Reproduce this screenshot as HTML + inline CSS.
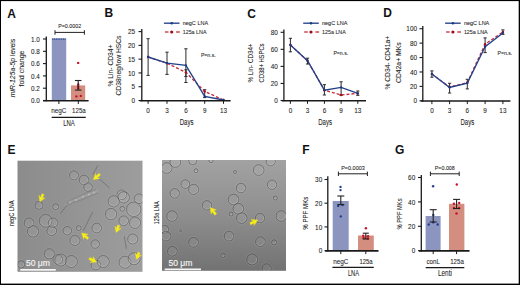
<!DOCTYPE html><html><head><meta charset="utf-8"><style>html,body{margin:0;padding:0;background:#fff;}svg{display:block;}text{stroke:#1e1e1e;stroke-width:0.08px;}text.w{stroke:#f4f4f4;stroke-width:0.15px;}text.b{stroke:none;}</style></head><body>
<svg width="520" height="285" viewBox="0 0 520 285" font-family='"Liberation Sans", sans-serif'>
<defs><linearGradient id="g1" x1="0" y1="0" x2="1" y2="0"><stop offset="0" stop-color="#8c8c8c"/><stop offset="1" stop-color="#9d9d9d"/></linearGradient><linearGradient id="g2" x1="0" y1="0" x2="0" y2="1"><stop offset="0" stop-color="#a2a2a2"/><stop offset="0.5" stop-color="#8e8e8e"/><stop offset="1" stop-color="#727272"/></linearGradient><clipPath id="c1"><rect x="17.5" y="160.7" width="125" height="111.1"/></clipPath><clipPath id="c2"><rect x="162" y="160" width="124" height="110.8"/></clipPath><filter id="soft" x="-5%" y="-5%" width="110%" height="110%"><feGaussianBlur stdDeviation="0.35"/></filter></defs>
<rect x="0" y="0" width="520" height="285" fill="#fff" />
<text class="b" x="7.3" y="17.5" font-size="12" text-anchor="start" fill="#111" font-weight="bold">A</text>
<text class="b" x="104.6" y="17.4" font-size="12" text-anchor="start" fill="#111" font-weight="bold">B</text>
<text class="b" x="247.2" y="17.5" font-size="12" text-anchor="start" fill="#111" font-weight="bold">C</text>
<text class="b" x="383.2" y="17.4" font-size="12" text-anchor="start" fill="#111" font-weight="bold">D</text>
<text class="b" x="7.6" y="153.6" font-size="12" text-anchor="start" fill="#111" font-weight="bold">E</text>
<text class="b" x="302.2" y="153.5" font-size="12" text-anchor="start" fill="#111" font-weight="bold">F</text>
<text class="b" x="395.0" y="153.6" font-size="12" text-anchor="start" fill="#111" font-weight="bold">G</text>
<rect x="51.8" y="38.6" width="14.4" height="62.0" fill="#8c95bf" />
<rect x="71.0" y="85.4" width="14.2" height="15.2" fill="#d48e7f" />
<circle cx="52.8" cy="39.0" r="0.75" fill="#22408e"/>
<circle cx="54.55" cy="39.0" r="0.75" fill="#22408e"/>
<circle cx="56.3" cy="39.0" r="0.75" fill="#22408e"/>
<circle cx="58.05" cy="39.0" r="0.75" fill="#22408e"/>
<circle cx="59.8" cy="39.0" r="0.75" fill="#22408e"/>
<circle cx="61.55" cy="39.0" r="0.75" fill="#22408e"/>
<circle cx="63.3" cy="39.0" r="0.75" fill="#22408e"/>
<circle cx="65.05" cy="39.0" r="0.75" fill="#22408e"/>
<circle cx="78.2" cy="62.9" r="1.2" fill="#c4122e"/>
<circle cx="76.4" cy="96.4" r="1.2" fill="#c4122e"/>
<circle cx="80.8" cy="95.9" r="1.2" fill="#c4122e"/>
<circle cx="78.2" cy="84.5" r="1.2" fill="#c4122e"/>
<circle cx="78.2" cy="86.5" r="1.2" fill="#c4122e"/>
<circle cx="78.2" cy="88.2" r="1.2" fill="#c4122e"/>
<line x1="78.2" y1="80.5" x2="78.2" y2="90.1" stroke="#222" stroke-width="1.1" />
<line x1="74.9" y1="80.5" x2="81.5" y2="80.5" stroke="#222" stroke-width="1.1" />
<line x1="74.9" y1="90.1" x2="81.5" y2="90.1" stroke="#222" stroke-width="1.1" />
<line x1="46.3" y1="36.5" x2="46.3" y2="101.25" stroke="#1a1a1a" stroke-width="1.3" />
<line x1="43.0" y1="39.0" x2="46.3" y2="39.0" stroke="#1a1a1a" stroke-width="1.1" />
<text x="39.9" y="41.6" font-size="7.4" text-anchor="end" fill="#1e1e1e" font-weight="normal" textLength="8.8" lengthAdjust="spacingAndGlyphs">1.0</text>
<line x1="43.0" y1="51.3" x2="46.3" y2="51.3" stroke="#1a1a1a" stroke-width="1.1" />
<text x="39.9" y="53.9" font-size="7.4" text-anchor="end" fill="#1e1e1e" font-weight="normal" textLength="8.8" lengthAdjust="spacingAndGlyphs">0.8</text>
<line x1="43.0" y1="63.6" x2="46.3" y2="63.6" stroke="#1a1a1a" stroke-width="1.1" />
<text x="39.9" y="66.2" font-size="7.4" text-anchor="end" fill="#1e1e1e" font-weight="normal" textLength="8.8" lengthAdjust="spacingAndGlyphs">0.6</text>
<line x1="43.0" y1="75.9" x2="46.3" y2="75.9" stroke="#1a1a1a" stroke-width="1.1" />
<text x="39.9" y="78.5" font-size="7.4" text-anchor="end" fill="#1e1e1e" font-weight="normal" textLength="8.8" lengthAdjust="spacingAndGlyphs">0.4</text>
<line x1="43.0" y1="88.2" x2="46.3" y2="88.2" stroke="#1a1a1a" stroke-width="1.1" />
<text x="39.9" y="90.8" font-size="7.4" text-anchor="end" fill="#1e1e1e" font-weight="normal" textLength="8.8" lengthAdjust="spacingAndGlyphs">0.2</text>
<line x1="43.0" y1="100.5" x2="46.3" y2="100.5" stroke="#1a1a1a" stroke-width="1.1" />
<text x="39.9" y="103.1" font-size="7.4" text-anchor="end" fill="#1e1e1e" font-weight="normal" textLength="8.8" lengthAdjust="spacingAndGlyphs">0.0</text>
<line x1="43.1" y1="100.75" x2="88.6" y2="100.75" stroke="#1a1a1a" stroke-width="1.65" />
<line x1="58.9" y1="100.6" x2="58.9" y2="104.0" stroke="#1a1a1a" stroke-width="1.0" />
<line x1="78.3" y1="100.6" x2="78.3" y2="104.0" stroke="#1a1a1a" stroke-width="1.0" />
<text x="58.8" y="112.8" font-size="6.6" text-anchor="middle" fill="#1e1e1e" font-weight="normal" textLength="15.2" lengthAdjust="spacingAndGlyphs">negC</text>
<text x="78.9" y="112.8" font-size="6.6" text-anchor="middle" fill="#1e1e1e" font-weight="normal" textLength="13.6" lengthAdjust="spacingAndGlyphs">125a</text>
<line x1="51.7" y1="117.4" x2="85.8" y2="117.4" stroke="#1a1a1a" stroke-width="1.1" />
<text x="69.0" y="126.1" font-size="8.6" text-anchor="middle" fill="#1e1e1e" font-weight="normal" textLength="11.6" lengthAdjust="spacingAndGlyphs">LNA</text>
<line x1="55.0" y1="32.4" x2="84.4" y2="32.4" stroke="#222" stroke-width="1.0" />
<line x1="55.0" y1="30.2" x2="55.0" y2="34.7" stroke="#222" stroke-width="1.0" />
<line x1="84.4" y1="30.2" x2="84.4" y2="34.7" stroke="#222" stroke-width="1.0" />
<text x="69.7" y="28.1" font-size="5.8" text-anchor="middle" fill="#1e1e1e" font-weight="normal" textLength="23.0" lengthAdjust="spacingAndGlyphs">P=0.0002</text>
<text transform="translate(14.9,68.0) rotate(-90)" font-size="7.6" text-anchor="middle" fill="#1e1e1e" textLength="58.5" lengthAdjust="spacingAndGlyphs"><tspan font-style="italic">miR-125a-5p</tspan> levels</text>
<text transform="translate(23.6,68.5) rotate(-90)" x="0" y="0" font-size="7.6" text-anchor="middle" fill="#1e1e1e" textLength="36.0" lengthAdjust="spacingAndGlyphs">fold change</text>
<line x1="148.1" y1="38.7" x2="148.1" y2="75.4" stroke="#2a2a2a" stroke-width="1.0" />
<line x1="146.5" y1="38.7" x2="149.7" y2="38.7" stroke="#2a2a2a" stroke-width="1.0" />
<line x1="146.5" y1="75.4" x2="149.7" y2="75.4" stroke="#2a2a2a" stroke-width="1.0" />
<line x1="167.0" y1="52.2" x2="167.0" y2="74.4" stroke="#2a2a2a" stroke-width="1.0" />
<line x1="165.4" y1="52.2" x2="168.6" y2="52.2" stroke="#2a2a2a" stroke-width="1.0" />
<line x1="165.4" y1="74.4" x2="168.6" y2="74.4" stroke="#2a2a2a" stroke-width="1.0" />
<line x1="185.9" y1="48.8" x2="185.9" y2="82.5" stroke="#2a2a2a" stroke-width="1.0" />
<line x1="184.3" y1="48.8" x2="187.5" y2="48.8" stroke="#2a2a2a" stroke-width="1.0" />
<line x1="184.3" y1="82.5" x2="187.5" y2="82.5" stroke="#2a2a2a" stroke-width="1.0" />
<line x1="185.9" y1="69.8" x2="185.9" y2="76.5" stroke="#2a2a2a" stroke-width="1.0" />
<line x1="184.3" y1="69.8" x2="187.5" y2="69.8" stroke="#2a2a2a" stroke-width="1.0" />
<line x1="184.3" y1="76.5" x2="187.5" y2="76.5" stroke="#2a2a2a" stroke-width="1.0" />
<line x1="204.7" y1="89.7" x2="204.7" y2="97.6" stroke="#2a2a2a" stroke-width="1.0" />
<line x1="203.1" y1="89.7" x2="206.29999999999998" y2="89.7" stroke="#2a2a2a" stroke-width="1.0" />
<line x1="203.1" y1="97.6" x2="206.29999999999998" y2="97.6" stroke="#2a2a2a" stroke-width="1.0" />
<polyline points="148.1,57.0 167.0,63.2 185.9,72.4 204.7,91.4 223.5,100.0" fill="none" stroke="#c42a36" stroke-width="1.3" stroke-dasharray="3,2"/>
<circle cx="148.1" cy="57.0" r="1.2" fill="#a01020"/>
<circle cx="167.0" cy="63.2" r="1.2" fill="#a01020"/>
<circle cx="185.9" cy="72.4" r="1.2" fill="#a01020"/>
<circle cx="204.7" cy="91.4" r="1.2" fill="#a01020"/>
<circle cx="223.5" cy="100.0" r="1.2" fill="#a01020"/>
<polyline points="148.1,57.0 167.0,63.2 185.9,65.4 204.7,96.4 223.5,100.0" fill="none" stroke="#22428a" stroke-width="1.35"/>
<circle cx="148.1" cy="57.0" r="1.15" fill="#1c3a80"/>
<circle cx="167.0" cy="63.2" r="1.15" fill="#1c3a80"/>
<circle cx="185.9" cy="65.4" r="1.15" fill="#1c3a80"/>
<circle cx="204.7" cy="96.4" r="1.15" fill="#1c3a80"/>
<circle cx="223.5" cy="100.0" r="1.15" fill="#1c3a80"/>
<line x1="141.8" y1="28.9" x2="141.8" y2="101.15" stroke="#1a1a1a" stroke-width="1.3" />
<line x1="138.5" y1="100.5" x2="141.8" y2="100.5" stroke="#1a1a1a" stroke-width="1.1" />
<text x="135.0" y="103.1" font-size="7.4" text-anchor="end" fill="#1e1e1e" font-weight="normal" textLength="3.55" lengthAdjust="spacingAndGlyphs">0</text>
<line x1="138.5" y1="86.72" x2="141.8" y2="86.72" stroke="#1a1a1a" stroke-width="1.1" />
<text x="135.0" y="89.32" font-size="7.4" text-anchor="end" fill="#1e1e1e" font-weight="normal" textLength="3.55" lengthAdjust="spacingAndGlyphs">5</text>
<line x1="138.5" y1="72.94" x2="141.8" y2="72.94" stroke="#1a1a1a" stroke-width="1.1" />
<text x="135.0" y="75.54" font-size="7.4" text-anchor="end" fill="#1e1e1e" font-weight="normal" textLength="7.1" lengthAdjust="spacingAndGlyphs">10</text>
<line x1="138.5" y1="59.16" x2="141.8" y2="59.16" stroke="#1a1a1a" stroke-width="1.1" />
<text x="135.0" y="61.76" font-size="7.4" text-anchor="end" fill="#1e1e1e" font-weight="normal" textLength="7.1" lengthAdjust="spacingAndGlyphs">15</text>
<line x1="138.5" y1="45.379999999999995" x2="141.8" y2="45.379999999999995" stroke="#1a1a1a" stroke-width="1.1" />
<text x="135.0" y="47.98" font-size="7.4" text-anchor="end" fill="#1e1e1e" font-weight="normal" textLength="7.1" lengthAdjust="spacingAndGlyphs">20</text>
<line x1="138.5" y1="31.599999999999994" x2="141.8" y2="31.599999999999994" stroke="#1a1a1a" stroke-width="1.1" />
<text x="135.0" y="34.2" font-size="7.4" text-anchor="end" fill="#1e1e1e" font-weight="normal" textLength="7.1" lengthAdjust="spacingAndGlyphs">25</text>
<line x1="139.8" y1="100.7" x2="230.6" y2="100.7" stroke="#1a1a1a" stroke-width="1.65" />
<line x1="148.1" y1="100.5" x2="148.1" y2="103.8" stroke="#1a1a1a" stroke-width="1.0" />
<text x="148.1" y="113.0" font-size="7.4" text-anchor="middle" fill="#1e1e1e" font-weight="normal" textLength="3.55" lengthAdjust="spacingAndGlyphs">0</text>
<line x1="167.0" y1="100.5" x2="167.0" y2="103.8" stroke="#1a1a1a" stroke-width="1.0" />
<text x="167.0" y="113.0" font-size="7.4" text-anchor="middle" fill="#1e1e1e" font-weight="normal" textLength="3.55" lengthAdjust="spacingAndGlyphs">3</text>
<line x1="185.9" y1="100.5" x2="185.9" y2="103.8" stroke="#1a1a1a" stroke-width="1.0" />
<text x="185.9" y="113.0" font-size="7.4" text-anchor="middle" fill="#1e1e1e" font-weight="normal" textLength="3.55" lengthAdjust="spacingAndGlyphs">6</text>
<line x1="204.7" y1="100.5" x2="204.7" y2="103.8" stroke="#1a1a1a" stroke-width="1.0" />
<text x="204.7" y="113.0" font-size="7.4" text-anchor="middle" fill="#1e1e1e" font-weight="normal" textLength="3.55" lengthAdjust="spacingAndGlyphs">9</text>
<line x1="223.5" y1="100.5" x2="223.5" y2="103.8" stroke="#1a1a1a" stroke-width="1.0" />
<text x="223.5" y="113.0" font-size="7.4" text-anchor="middle" fill="#1e1e1e" font-weight="normal" textLength="7.1" lengthAdjust="spacingAndGlyphs">13</text>
<text x="186.6" y="124.7" font-size="8.9" text-anchor="middle" fill="#1e1e1e" font-weight="normal" textLength="13.8" lengthAdjust="spacingAndGlyphs">Days</text>
<line x1="163.9" y1="23.2" x2="179.5" y2="23.2" stroke="#22428a" stroke-width="1.35" />
<circle cx="171.70000000000002" cy="23.2" r="1.3" fill="#1c3a80"/>
<line x1="164.9" y1="32.0" x2="168.5" y2="32.0" stroke="#c42a36" stroke-width="1.3" />
<line x1="176.1" y1="32.0" x2="179.8" y2="32.0" stroke="#c42a36" stroke-width="1.3" />
<circle cx="171.70000000000002" cy="32.0" r="1.6" fill="#a00a1c"/>
<text x="182.70000000000002" y="25.2" font-size="5.8" text-anchor="start" fill="#1e1e1e" font-weight="normal" textLength="25.4" lengthAdjust="spacingAndGlyphs">negC LNA</text>
<text x="182.70000000000002" y="34.0" font-size="5.8" text-anchor="start" fill="#1e1e1e" font-weight="normal" textLength="23.8" lengthAdjust="spacingAndGlyphs">125a LNA</text>
<text x="200.9" y="56.6" font-size="5.6" text-anchor="start" fill="#1e1e1e" font-weight="normal" textLength="14.8" lengthAdjust="spacingAndGlyphs">P=n.s.</text>
<text transform="translate(112.5,65.5) rotate(-90)" x="0" y="0" font-size="7.9" text-anchor="middle" fill="#1e1e1e" textLength="42.0" lengthAdjust="spacingAndGlyphs">% Lin- CD34+</text>
<text transform="translate(121.1,65.5) rotate(-90)" x="0" y="0" font-size="7.9" text-anchor="middle" fill="#1e1e1e" textLength="60.0" lengthAdjust="spacingAndGlyphs">CD38neg/low HSCs</text>
<line x1="290.4" y1="38.3" x2="290.4" y2="51.8" stroke="#2a2a2a" stroke-width="1.0" />
<line x1="288.79999999999995" y1="38.3" x2="292.0" y2="38.3" stroke="#2a2a2a" stroke-width="1.0" />
<line x1="288.79999999999995" y1="51.8" x2="292.0" y2="51.8" stroke="#2a2a2a" stroke-width="1.0" />
<line x1="307.5" y1="58.2" x2="307.5" y2="64.0" stroke="#2a2a2a" stroke-width="1.0" />
<line x1="305.9" y1="58.2" x2="309.1" y2="58.2" stroke="#2a2a2a" stroke-width="1.0" />
<line x1="305.9" y1="64.0" x2="309.1" y2="64.0" stroke="#2a2a2a" stroke-width="1.0" />
<line x1="324.4" y1="84.7" x2="324.4" y2="95.0" stroke="#2a2a2a" stroke-width="1.0" />
<line x1="322.79999999999995" y1="84.7" x2="326.0" y2="84.7" stroke="#2a2a2a" stroke-width="1.0" />
<line x1="322.79999999999995" y1="95.0" x2="326.0" y2="95.0" stroke="#2a2a2a" stroke-width="1.0" />
<line x1="341.1" y1="81.8" x2="341.1" y2="95.3" stroke="#2a2a2a" stroke-width="1.0" />
<line x1="339.5" y1="81.8" x2="342.70000000000005" y2="81.8" stroke="#2a2a2a" stroke-width="1.0" />
<line x1="339.5" y1="95.3" x2="342.70000000000005" y2="95.3" stroke="#2a2a2a" stroke-width="1.0" />
<line x1="357.8" y1="91.0" x2="357.8" y2="95.3" stroke="#2a2a2a" stroke-width="1.0" />
<line x1="356.2" y1="91.0" x2="359.40000000000003" y2="91.0" stroke="#2a2a2a" stroke-width="1.0" />
<line x1="356.2" y1="95.3" x2="359.40000000000003" y2="95.3" stroke="#2a2a2a" stroke-width="1.0" />
<polyline points="290.4,45.0 307.5,60.7 324.4,90.2 341.1,95.0 357.8,93.4" fill="none" stroke="#c42a36" stroke-width="1.3" stroke-dasharray="3,2"/>
<circle cx="290.4" cy="45.0" r="1.2" fill="#a01020"/>
<circle cx="307.5" cy="60.7" r="1.2" fill="#a01020"/>
<circle cx="324.4" cy="90.2" r="1.2" fill="#a01020"/>
<circle cx="341.1" cy="95.0" r="1.2" fill="#a01020"/>
<circle cx="357.8" cy="93.4" r="1.2" fill="#a01020"/>
<polyline points="290.4,45.0 307.5,60.7 324.4,90.2 341.1,87.4 357.8,93.4" fill="none" stroke="#22428a" stroke-width="1.35"/>
<circle cx="290.4" cy="45.0" r="1.15" fill="#1c3a80"/>
<circle cx="307.5" cy="60.7" r="1.15" fill="#1c3a80"/>
<circle cx="324.4" cy="90.2" r="1.15" fill="#1c3a80"/>
<circle cx="341.1" cy="87.4" r="1.15" fill="#1c3a80"/>
<circle cx="357.8" cy="93.4" r="1.15" fill="#1c3a80"/>
<line x1="283.9" y1="29.5" x2="283.9" y2="101.15" stroke="#1a1a1a" stroke-width="1.3" />
<line x1="280.59999999999997" y1="100.5" x2="283.9" y2="100.5" stroke="#1a1a1a" stroke-width="1.1" />
<text x="277.8" y="103.1" font-size="7.4" text-anchor="end" fill="#1e1e1e" font-weight="normal" textLength="3.55" lengthAdjust="spacingAndGlyphs">0</text>
<line x1="280.59999999999997" y1="83.45" x2="283.9" y2="83.45" stroke="#1a1a1a" stroke-width="1.1" />
<text x="277.8" y="86.05" font-size="7.4" text-anchor="end" fill="#1e1e1e" font-weight="normal" textLength="7.1" lengthAdjust="spacingAndGlyphs">20</text>
<line x1="280.59999999999997" y1="66.4" x2="283.9" y2="66.4" stroke="#1a1a1a" stroke-width="1.1" />
<text x="277.8" y="69.0" font-size="7.4" text-anchor="end" fill="#1e1e1e" font-weight="normal" textLength="7.1" lengthAdjust="spacingAndGlyphs">40</text>
<line x1="280.59999999999997" y1="49.349999999999994" x2="283.9" y2="49.349999999999994" stroke="#1a1a1a" stroke-width="1.1" />
<text x="277.8" y="51.95" font-size="7.4" text-anchor="end" fill="#1e1e1e" font-weight="normal" textLength="7.1" lengthAdjust="spacingAndGlyphs">60</text>
<line x1="280.59999999999997" y1="32.3" x2="283.9" y2="32.3" stroke="#1a1a1a" stroke-width="1.1" />
<text x="277.8" y="34.9" font-size="7.4" text-anchor="end" fill="#1e1e1e" font-weight="normal" textLength="7.1" lengthAdjust="spacingAndGlyphs">80</text>
<line x1="281.9" y1="100.7" x2="366.0" y2="100.7" stroke="#1a1a1a" stroke-width="1.65" />
<line x1="290.4" y1="100.5" x2="290.4" y2="103.8" stroke="#1a1a1a" stroke-width="1.0" />
<text x="290.4" y="113.0" font-size="7.4" text-anchor="middle" fill="#1e1e1e" font-weight="normal" textLength="3.55" lengthAdjust="spacingAndGlyphs">0</text>
<line x1="307.5" y1="100.5" x2="307.5" y2="103.8" stroke="#1a1a1a" stroke-width="1.0" />
<text x="307.5" y="113.0" font-size="7.4" text-anchor="middle" fill="#1e1e1e" font-weight="normal" textLength="3.55" lengthAdjust="spacingAndGlyphs">3</text>
<line x1="324.4" y1="100.5" x2="324.4" y2="103.8" stroke="#1a1a1a" stroke-width="1.0" />
<text x="324.4" y="113.0" font-size="7.4" text-anchor="middle" fill="#1e1e1e" font-weight="normal" textLength="3.55" lengthAdjust="spacingAndGlyphs">6</text>
<line x1="341.1" y1="100.5" x2="341.1" y2="103.8" stroke="#1a1a1a" stroke-width="1.0" />
<text x="341.1" y="113.0" font-size="7.4" text-anchor="middle" fill="#1e1e1e" font-weight="normal" textLength="3.55" lengthAdjust="spacingAndGlyphs">9</text>
<line x1="357.8" y1="100.5" x2="357.8" y2="103.8" stroke="#1a1a1a" stroke-width="1.0" />
<text x="357.8" y="113.0" font-size="7.4" text-anchor="middle" fill="#1e1e1e" font-weight="normal" textLength="7.1" lengthAdjust="spacingAndGlyphs">13</text>
<text x="325.1" y="124.7" font-size="8.9" text-anchor="middle" fill="#1e1e1e" font-weight="normal" textLength="13.8" lengthAdjust="spacingAndGlyphs">Days</text>
<line x1="303.2" y1="23.2" x2="318.8" y2="23.2" stroke="#22428a" stroke-width="1.35" />
<circle cx="311.0" cy="23.2" r="1.3" fill="#1c3a80"/>
<line x1="304.2" y1="32.0" x2="307.8" y2="32.0" stroke="#c42a36" stroke-width="1.3" />
<line x1="315.4" y1="32.0" x2="319.09999999999997" y2="32.0" stroke="#c42a36" stroke-width="1.3" />
<circle cx="311.0" cy="32.0" r="1.6" fill="#a00a1c"/>
<text x="322.0" y="25.2" font-size="5.8" text-anchor="start" fill="#1e1e1e" font-weight="normal" textLength="25.4" lengthAdjust="spacingAndGlyphs">negC LNA</text>
<text x="322.0" y="34.0" font-size="5.8" text-anchor="start" fill="#1e1e1e" font-weight="normal" textLength="23.8" lengthAdjust="spacingAndGlyphs">125a LNA</text>
<text x="333.4" y="54.9" font-size="5.6" text-anchor="start" fill="#1e1e1e" font-weight="normal" textLength="14.8" lengthAdjust="spacingAndGlyphs">P=n.s.</text>
<text transform="translate(253.3,63.0) rotate(-90)" x="0" y="0" font-size="7.9" text-anchor="middle" fill="#1e1e1e" textLength="39.0" lengthAdjust="spacingAndGlyphs">% Lin- CD34+</text>
<text transform="translate(263.6,63.0) rotate(-90)" x="0" y="0" font-size="7.9" text-anchor="middle" fill="#1e1e1e" textLength="39.0" lengthAdjust="spacingAndGlyphs">CD38+ HSPCs</text>
<line x1="431.9" y1="70.9" x2="431.9" y2="77.2" stroke="#2a2a2a" stroke-width="1.0" />
<line x1="430.29999999999995" y1="70.9" x2="433.5" y2="70.9" stroke="#2a2a2a" stroke-width="1.0" />
<line x1="430.29999999999995" y1="77.2" x2="433.5" y2="77.2" stroke="#2a2a2a" stroke-width="1.0" />
<line x1="449.6" y1="83.3" x2="449.6" y2="93.0" stroke="#2a2a2a" stroke-width="1.0" />
<line x1="448.0" y1="83.3" x2="451.20000000000005" y2="83.3" stroke="#2a2a2a" stroke-width="1.0" />
<line x1="448.0" y1="93.0" x2="451.20000000000005" y2="93.0" stroke="#2a2a2a" stroke-width="1.0" />
<line x1="467.3" y1="79.3" x2="467.3" y2="88.9" stroke="#2a2a2a" stroke-width="1.0" />
<line x1="465.7" y1="79.3" x2="468.90000000000003" y2="79.3" stroke="#2a2a2a" stroke-width="1.0" />
<line x1="465.7" y1="88.9" x2="468.90000000000003" y2="88.9" stroke="#2a2a2a" stroke-width="1.0" />
<line x1="485.1" y1="37.9" x2="485.1" y2="52.6" stroke="#2a2a2a" stroke-width="1.0" />
<line x1="483.5" y1="37.9" x2="486.70000000000005" y2="37.9" stroke="#2a2a2a" stroke-width="1.0" />
<line x1="483.5" y1="52.6" x2="486.70000000000005" y2="52.6" stroke="#2a2a2a" stroke-width="1.0" />
<line x1="502.9" y1="29.9" x2="502.9" y2="34.3" stroke="#2a2a2a" stroke-width="1.0" />
<line x1="501.29999999999995" y1="29.9" x2="504.5" y2="29.9" stroke="#2a2a2a" stroke-width="1.0" />
<line x1="501.29999999999995" y1="34.3" x2="504.5" y2="34.3" stroke="#2a2a2a" stroke-width="1.0" />
<polyline points="431.9,74.0 449.6,87.0 467.3,82.5 485.1,44.2 502.9,32.0" fill="none" stroke="#c42a36" stroke-width="1.3" stroke-dasharray="3,2"/>
<circle cx="431.9" cy="74.0" r="1.2" fill="#a01020"/>
<circle cx="449.6" cy="87.0" r="1.2" fill="#a01020"/>
<circle cx="467.3" cy="82.5" r="1.2" fill="#a01020"/>
<circle cx="485.1" cy="44.2" r="1.2" fill="#a01020"/>
<circle cx="502.9" cy="32.0" r="1.2" fill="#a01020"/>
<polyline points="431.9,74.0 449.6,87.5 467.3,83.2 485.1,46.7 502.9,33.0" fill="none" stroke="#22428a" stroke-width="1.35"/>
<circle cx="431.9" cy="74.0" r="1.15" fill="#1c3a80"/>
<circle cx="449.6" cy="87.5" r="1.15" fill="#1c3a80"/>
<circle cx="467.3" cy="83.2" r="1.15" fill="#1c3a80"/>
<circle cx="485.1" cy="46.7" r="1.15" fill="#1c3a80"/>
<circle cx="502.9" cy="33.0" r="1.15" fill="#1c3a80"/>
<line x1="422.8" y1="25.9" x2="422.8" y2="101.45" stroke="#1a1a1a" stroke-width="1.3" />
<line x1="419.5" y1="100.8" x2="422.8" y2="100.8" stroke="#1a1a1a" stroke-width="1.1" />
<text x="417.0" y="103.4" font-size="7.4" text-anchor="end" fill="#1e1e1e" font-weight="normal" textLength="3.55" lengthAdjust="spacingAndGlyphs">0</text>
<line x1="419.5" y1="86.38" x2="422.8" y2="86.38" stroke="#1a1a1a" stroke-width="1.1" />
<text x="417.0" y="88.98" font-size="7.4" text-anchor="end" fill="#1e1e1e" font-weight="normal" textLength="7.1" lengthAdjust="spacingAndGlyphs">20</text>
<line x1="419.5" y1="71.96" x2="422.8" y2="71.96" stroke="#1a1a1a" stroke-width="1.1" />
<text x="417.0" y="74.56" font-size="7.4" text-anchor="end" fill="#1e1e1e" font-weight="normal" textLength="7.1" lengthAdjust="spacingAndGlyphs">40</text>
<line x1="419.5" y1="57.54" x2="422.8" y2="57.54" stroke="#1a1a1a" stroke-width="1.1" />
<text x="417.0" y="60.14" font-size="7.4" text-anchor="end" fill="#1e1e1e" font-weight="normal" textLength="7.1" lengthAdjust="spacingAndGlyphs">60</text>
<line x1="419.5" y1="43.12" x2="422.8" y2="43.12" stroke="#1a1a1a" stroke-width="1.1" />
<text x="417.0" y="45.72" font-size="7.4" text-anchor="end" fill="#1e1e1e" font-weight="normal" textLength="7.1" lengthAdjust="spacingAndGlyphs">80</text>
<line x1="419.5" y1="28.700000000000003" x2="422.8" y2="28.700000000000003" stroke="#1a1a1a" stroke-width="1.1" />
<text x="417.0" y="31.3" font-size="7.4" text-anchor="end" fill="#1e1e1e" font-weight="normal" textLength="10.65" lengthAdjust="spacingAndGlyphs">100</text>
<line x1="420.8" y1="101.0" x2="510.4" y2="101.0" stroke="#1a1a1a" stroke-width="1.65" />
<line x1="431.9" y1="100.8" x2="431.9" y2="104.1" stroke="#1a1a1a" stroke-width="1.0" />
<text x="431.9" y="113.3" font-size="7.4" text-anchor="middle" fill="#1e1e1e" font-weight="normal" textLength="3.55" lengthAdjust="spacingAndGlyphs">0</text>
<line x1="449.6" y1="100.8" x2="449.6" y2="104.1" stroke="#1a1a1a" stroke-width="1.0" />
<text x="449.6" y="113.3" font-size="7.4" text-anchor="middle" fill="#1e1e1e" font-weight="normal" textLength="3.55" lengthAdjust="spacingAndGlyphs">3</text>
<line x1="467.3" y1="100.8" x2="467.3" y2="104.1" stroke="#1a1a1a" stroke-width="1.0" />
<text x="467.3" y="113.3" font-size="7.4" text-anchor="middle" fill="#1e1e1e" font-weight="normal" textLength="3.55" lengthAdjust="spacingAndGlyphs">6</text>
<line x1="485.1" y1="100.8" x2="485.1" y2="104.1" stroke="#1a1a1a" stroke-width="1.0" />
<text x="485.1" y="113.3" font-size="7.4" text-anchor="middle" fill="#1e1e1e" font-weight="normal" textLength="3.55" lengthAdjust="spacingAndGlyphs">9</text>
<line x1="502.9" y1="100.8" x2="502.9" y2="104.1" stroke="#1a1a1a" stroke-width="1.0" />
<text x="502.9" y="113.3" font-size="7.4" text-anchor="middle" fill="#1e1e1e" font-weight="normal" textLength="7.1" lengthAdjust="spacingAndGlyphs">13</text>
<text x="467.4" y="124.7" font-size="8.9" text-anchor="middle" fill="#1e1e1e" font-weight="normal" textLength="13.8" lengthAdjust="spacingAndGlyphs">Days</text>
<line x1="445.1" y1="23.2" x2="460.70000000000005" y2="23.2" stroke="#22428a" stroke-width="1.35" />
<circle cx="452.90000000000003" cy="23.2" r="1.3" fill="#1c3a80"/>
<line x1="446.1" y1="32.0" x2="449.70000000000005" y2="32.0" stroke="#c42a36" stroke-width="1.3" />
<line x1="457.3" y1="32.0" x2="461.0" y2="32.0" stroke="#c42a36" stroke-width="1.3" />
<circle cx="452.90000000000003" cy="32.0" r="1.6" fill="#a00a1c"/>
<text x="463.90000000000003" y="25.2" font-size="5.8" text-anchor="start" fill="#1e1e1e" font-weight="normal" textLength="25.4" lengthAdjust="spacingAndGlyphs">negC LNA</text>
<text x="463.90000000000003" y="34.0" font-size="5.8" text-anchor="start" fill="#1e1e1e" font-weight="normal" textLength="23.8" lengthAdjust="spacingAndGlyphs">125a LNA</text>
<text x="497.5" y="54.6" font-size="5.6" text-anchor="start" fill="#1e1e1e" font-weight="normal" textLength="14.8" lengthAdjust="spacingAndGlyphs">P=n.s.</text>
<text transform="translate(390.3,62.7) rotate(-90)" x="0" y="0" font-size="7.9" text-anchor="middle" fill="#1e1e1e" textLength="53.6" lengthAdjust="spacingAndGlyphs">% CD34- CD41a+</text>
<text transform="translate(400.5,62.7) rotate(-90)" x="0" y="0" font-size="7.9" text-anchor="middle" fill="#1e1e1e" textLength="40.6" lengthAdjust="spacingAndGlyphs">CD42a+ MKs</text>
<rect x="17.5" y="160.7" width="125.0" height="111.1" fill="url(#g1)" />
<rect x="162.0" y="160.0" width="124.0" height="110.8" fill="url(#g2)" />
<g filter="url(#soft)">
<g clip-path="url(#c1)"><circle cx="74" cy="175.3" r="5.340000000000001" fill="none" stroke="#d0d0d0" stroke-opacity="0.16" stroke-width="0.9"/><circle cx="74" cy="175.3" r="4.44" fill="#ffffff" fill-opacity="0.05" stroke="#3a3a3a" stroke-opacity="0.5" stroke-width="0.8"/><circle cx="74" cy="175.3" r="3.54" fill="none" stroke="#e0e0e0" stroke-opacity="0.3" stroke-width="0.8" stroke-dasharray="11.12,11.12" transform="rotate(-20 74 175.3)"/></g>
<g clip-path="url(#c1)"><circle cx="84" cy="180" r="5.7" fill="none" stroke="#d0d0d0" stroke-opacity="0.16" stroke-width="0.9"/><circle cx="84" cy="180" r="4.8" fill="#ffffff" fill-opacity="0.05" stroke="#3a3a3a" stroke-opacity="0.5" stroke-width="0.8"/><circle cx="84" cy="180" r="3.90" fill="none" stroke="#e0e0e0" stroke-opacity="0.3" stroke-width="0.8" stroke-dasharray="12.25,12.25" transform="rotate(-20 84 180)"/></g>
<g clip-path="url(#c1)"><circle cx="88" cy="187" r="5.1000000000000005" fill="none" stroke="#d0d0d0" stroke-opacity="0.16" stroke-width="0.9"/><circle cx="88" cy="187" r="4.2" fill="#ffffff" fill-opacity="0.05" stroke="#3a3a3a" stroke-opacity="0.5" stroke-width="0.8"/><circle cx="88" cy="187" r="3.30" fill="none" stroke="#e0e0e0" stroke-opacity="0.3" stroke-width="0.8" stroke-dasharray="10.37,10.37" transform="rotate(-20 88 187)"/></g>
<g clip-path="url(#c1)"><circle cx="121.7" cy="194.7" r="5.7" fill="none" stroke="#d0d0d0" stroke-opacity="0.16" stroke-width="0.9"/><circle cx="121.7" cy="194.7" r="4.8" fill="#ffffff" fill-opacity="0.05" stroke="#3a3a3a" stroke-opacity="0.5" stroke-width="0.8"/><circle cx="121.7" cy="194.7" r="3.90" fill="none" stroke="#e0e0e0" stroke-opacity="0.3" stroke-width="0.8" stroke-dasharray="12.25,12.25" transform="rotate(-20 121.7 194.7)"/></g>
<g clip-path="url(#c1)"><circle cx="39" cy="205.3" r="4.86" fill="none" stroke="#d0d0d0" stroke-opacity="0.16" stroke-width="0.9"/><circle cx="39" cy="205.3" r="3.96" fill="#ffffff" fill-opacity="0.05" stroke="#3a3a3a" stroke-opacity="0.5" stroke-width="0.8"/><circle cx="39" cy="205.3" r="3.06" fill="none" stroke="#e0e0e0" stroke-opacity="0.3" stroke-width="0.8" stroke-dasharray="9.61,9.61" transform="rotate(-20 39 205.3)"/></g>
<g clip-path="url(#c1)"><circle cx="45.7" cy="220.7" r="7.260000000000001" fill="none" stroke="#d0d0d0" stroke-opacity="0.16" stroke-width="0.9"/><circle cx="45.7" cy="220.7" r="6.36" fill="#ffffff" fill-opacity="0.05" stroke="#3a3a3a" stroke-opacity="0.5" stroke-width="0.8"/><circle cx="45.7" cy="220.7" r="5.46" fill="none" stroke="#e0e0e0" stroke-opacity="0.3" stroke-width="0.8" stroke-dasharray="17.15,17.15" transform="rotate(-20 45.7 220.7)"/></g>
<g clip-path="url(#c1)"><circle cx="29" cy="222.7" r="5.7" fill="none" stroke="#d0d0d0" stroke-opacity="0.16" stroke-width="0.9"/><circle cx="29" cy="222.7" r="4.8" fill="#ffffff" fill-opacity="0.05" stroke="#3a3a3a" stroke-opacity="0.5" stroke-width="0.8"/><circle cx="29" cy="222.7" r="3.90" fill="none" stroke="#e0e0e0" stroke-opacity="0.3" stroke-width="0.8" stroke-dasharray="12.25,12.25" transform="rotate(-20 29 222.7)"/></g>
<g clip-path="url(#c1)"><circle cx="53" cy="222.7" r="5.7" fill="none" stroke="#d0d0d0" stroke-opacity="0.16" stroke-width="0.9"/><circle cx="53" cy="222.7" r="4.8" fill="#ffffff" fill-opacity="0.05" stroke="#3a3a3a" stroke-opacity="0.5" stroke-width="0.8"/><circle cx="53" cy="222.7" r="3.90" fill="none" stroke="#e0e0e0" stroke-opacity="0.3" stroke-width="0.8" stroke-dasharray="12.25,12.25" transform="rotate(-20 53 222.7)"/></g>
<g clip-path="url(#c1)"><circle cx="33" cy="231.3" r="6.54" fill="none" stroke="#d0d0d0" stroke-opacity="0.16" stroke-width="0.9"/><circle cx="33" cy="231.3" r="5.64" fill="#ffffff" fill-opacity="0.05" stroke="#3a3a3a" stroke-opacity="0.5" stroke-width="0.8"/><circle cx="33" cy="231.3" r="4.74" fill="none" stroke="#e0e0e0" stroke-opacity="0.3" stroke-width="0.8" stroke-dasharray="14.89,14.89" transform="rotate(-20 33 231.3)"/></g>
<g clip-path="url(#c1)"><circle cx="51.7" cy="230.7" r="5.7" fill="none" stroke="#d0d0d0" stroke-opacity="0.16" stroke-width="0.9"/><circle cx="51.7" cy="230.7" r="4.8" fill="#ffffff" fill-opacity="0.05" stroke="#3a3a3a" stroke-opacity="0.5" stroke-width="0.8"/><circle cx="51.7" cy="230.7" r="3.90" fill="none" stroke="#e0e0e0" stroke-opacity="0.3" stroke-width="0.8" stroke-dasharray="12.25,12.25" transform="rotate(-20 51.7 230.7)"/></g>
<g clip-path="url(#c1)"><circle cx="55.7" cy="206.7" r="3.9" fill="none" stroke="#d0d0d0" stroke-opacity="0.16" stroke-width="0.9"/><circle cx="55.7" cy="206.7" r="3.0" fill="#ffffff" fill-opacity="0.05" stroke="#3a3a3a" stroke-opacity="0.5" stroke-width="0.8"/><circle cx="55.7" cy="206.7" r="2.10" fill="none" stroke="#e0e0e0" stroke-opacity="0.3" stroke-width="0.8" stroke-dasharray="6.60,6.60" transform="rotate(-20 55.7 206.7)"/></g>
<g clip-path="url(#c1)"><circle cx="96.7" cy="228" r="5.7" fill="none" stroke="#d0d0d0" stroke-opacity="0.16" stroke-width="0.9"/><circle cx="96.7" cy="228" r="4.8" fill="#ffffff" fill-opacity="0.05" stroke="#3a3a3a" stroke-opacity="0.5" stroke-width="0.8"/><circle cx="96.7" cy="228" r="3.90" fill="none" stroke="#e0e0e0" stroke-opacity="0.3" stroke-width="0.8" stroke-dasharray="12.25,12.25" transform="rotate(-20 96.7 228)"/></g>
<g clip-path="url(#c1)"><circle cx="67.3" cy="230.7" r="5.1000000000000005" fill="none" stroke="#d0d0d0" stroke-opacity="0.16" stroke-width="0.9"/><circle cx="67.3" cy="230.7" r="4.2" fill="#ffffff" fill-opacity="0.05" stroke="#3a3a3a" stroke-opacity="0.5" stroke-width="0.8"/><circle cx="67.3" cy="230.7" r="3.30" fill="none" stroke="#e0e0e0" stroke-opacity="0.3" stroke-width="0.8" stroke-dasharray="10.37,10.37" transform="rotate(-20 67.3 230.7)"/></g>
<g clip-path="url(#c1)"><circle cx="78.7" cy="228" r="3.3" fill="none" stroke="#d0d0d0" stroke-opacity="0.16" stroke-width="0.9"/><circle cx="78.7" cy="228" r="2.4" fill="#ffffff" fill-opacity="0.05" stroke="#3a3a3a" stroke-opacity="0.5" stroke-width="0.8"/><circle cx="78.7" cy="228" r="1.50" fill="none" stroke="#e0e0e0" stroke-opacity="0.3" stroke-width="0.8" stroke-dasharray="4.71,4.71" transform="rotate(-20 78.7 228)"/></g>
<g clip-path="url(#c1)"><circle cx="113.7" cy="201.3" r="6.54" fill="none" stroke="#d0d0d0" stroke-opacity="0.16" stroke-width="0.9"/><circle cx="113.7" cy="201.3" r="5.64" fill="#ffffff" fill-opacity="0.05" stroke="#3a3a3a" stroke-opacity="0.5" stroke-width="0.8"/><circle cx="113.7" cy="201.3" r="4.74" fill="none" stroke="#e0e0e0" stroke-opacity="0.3" stroke-width="0.8" stroke-dasharray="14.89,14.89" transform="rotate(-20 113.7 201.3)"/></g>
<g clip-path="url(#c1)"><circle cx="123.7" cy="197.3" r="6.54" fill="none" stroke="#d0d0d0" stroke-opacity="0.16" stroke-width="0.9"/><circle cx="123.7" cy="197.3" r="5.64" fill="#ffffff" fill-opacity="0.05" stroke="#3a3a3a" stroke-opacity="0.5" stroke-width="0.8"/><circle cx="123.7" cy="197.3" r="4.74" fill="none" stroke="#e0e0e0" stroke-opacity="0.3" stroke-width="0.8" stroke-dasharray="14.89,14.89" transform="rotate(-20 123.7 197.3)"/></g>
<g clip-path="url(#c1)"><circle cx="133.7" cy="209.3" r="8.1" fill="none" stroke="#d0d0d0" stroke-opacity="0.16" stroke-width="0.9"/><circle cx="133.7" cy="209.3" r="7.2" fill="#ffffff" fill-opacity="0.05" stroke="#3a3a3a" stroke-opacity="0.5" stroke-width="0.8"/><circle cx="133.7" cy="209.3" r="6.30" fill="none" stroke="#e0e0e0" stroke-opacity="0.3" stroke-width="0.8" stroke-dasharray="19.79,19.79" transform="rotate(-20 133.7 209.3)"/></g>
<g clip-path="url(#c1)"><circle cx="111" cy="214" r="6.54" fill="none" stroke="#d0d0d0" stroke-opacity="0.16" stroke-width="0.9"/><circle cx="111" cy="214" r="5.64" fill="#ffffff" fill-opacity="0.05" stroke="#3a3a3a" stroke-opacity="0.5" stroke-width="0.8"/><circle cx="111" cy="214" r="4.74" fill="none" stroke="#e0e0e0" stroke-opacity="0.3" stroke-width="0.8" stroke-dasharray="14.89,14.89" transform="rotate(-20 111 214)"/></g>
<g clip-path="url(#c1)"><circle cx="122.3" cy="208.7" r="3.3" fill="none" stroke="#d0d0d0" stroke-opacity="0.16" stroke-width="0.9"/><circle cx="122.3" cy="208.7" r="2.4" fill="#ffffff" fill-opacity="0.05" stroke="#3a3a3a" stroke-opacity="0.5" stroke-width="0.8"/><circle cx="122.3" cy="208.7" r="1.50" fill="none" stroke="#e0e0e0" stroke-opacity="0.3" stroke-width="0.8" stroke-dasharray="4.71,4.71" transform="rotate(-20 122.3 208.7)"/></g>
<g clip-path="url(#c1)"><circle cx="123.7" cy="220.7" r="5.7" fill="none" stroke="#d0d0d0" stroke-opacity="0.16" stroke-width="0.9"/><circle cx="123.7" cy="220.7" r="4.8" fill="#ffffff" fill-opacity="0.05" stroke="#3a3a3a" stroke-opacity="0.5" stroke-width="0.8"/><circle cx="123.7" cy="220.7" r="3.90" fill="none" stroke="#e0e0e0" stroke-opacity="0.3" stroke-width="0.8" stroke-dasharray="12.25,12.25" transform="rotate(-20 123.7 220.7)"/></g>
<g clip-path="url(#c1)"><circle cx="135" cy="222.7" r="6.54" fill="none" stroke="#d0d0d0" stroke-opacity="0.16" stroke-width="0.9"/><circle cx="135" cy="222.7" r="5.64" fill="#ffffff" fill-opacity="0.05" stroke="#3a3a3a" stroke-opacity="0.5" stroke-width="0.8"/><circle cx="135" cy="222.7" r="4.74" fill="none" stroke="#e0e0e0" stroke-opacity="0.3" stroke-width="0.8" stroke-dasharray="14.89,14.89" transform="rotate(-20 135 222.7)"/></g>
<g clip-path="url(#c1)"><circle cx="139" cy="198.7" r="5.7" fill="none" stroke="#d0d0d0" stroke-opacity="0.16" stroke-width="0.9"/><circle cx="139" cy="198.7" r="4.8" fill="#ffffff" fill-opacity="0.05" stroke="#3a3a3a" stroke-opacity="0.5" stroke-width="0.8"/><circle cx="139" cy="198.7" r="3.90" fill="none" stroke="#e0e0e0" stroke-opacity="0.3" stroke-width="0.8" stroke-dasharray="12.25,12.25" transform="rotate(-20 139 198.7)"/></g>
<g clip-path="url(#c1)"><circle cx="49.3" cy="253.8" r="5.94" fill="none" stroke="#d0d0d0" stroke-opacity="0.16" stroke-width="0.9"/><circle cx="49.3" cy="253.8" r="5.04" fill="#ffffff" fill-opacity="0.05" stroke="#3a3a3a" stroke-opacity="0.5" stroke-width="0.8"/><circle cx="49.3" cy="253.8" r="4.14" fill="none" stroke="#e0e0e0" stroke-opacity="0.3" stroke-width="0.8" stroke-dasharray="13.01,13.01" transform="rotate(-20 49.3 253.8)"/></g>
<g clip-path="url(#c1)"><circle cx="57.7" cy="259.4" r="5.7" fill="none" stroke="#d0d0d0" stroke-opacity="0.16" stroke-width="0.9"/><circle cx="57.7" cy="259.4" r="4.8" fill="#ffffff" fill-opacity="0.05" stroke="#3a3a3a" stroke-opacity="0.5" stroke-width="0.8"/><circle cx="57.7" cy="259.4" r="3.90" fill="none" stroke="#e0e0e0" stroke-opacity="0.3" stroke-width="0.8" stroke-dasharray="12.25,12.25" transform="rotate(-20 57.7 259.4)"/></g>
<g clip-path="url(#c1)"><circle cx="21.2" cy="264.3" r="4.5" fill="none" stroke="#d0d0d0" stroke-opacity="0.16" stroke-width="0.9"/><circle cx="21.2" cy="264.3" r="3.6" fill="#ffffff" fill-opacity="0.05" stroke="#3a3a3a" stroke-opacity="0.5" stroke-width="0.8"/><circle cx="21.2" cy="264.3" r="2.70" fill="none" stroke="#e0e0e0" stroke-opacity="0.3" stroke-width="0.8" stroke-dasharray="8.48,8.48" transform="rotate(-20 21.2 264.3)"/></g>
<g clip-path="url(#c1)"><circle cx="74.9" cy="240.4" r="5.94" fill="none" stroke="#d0d0d0" stroke-opacity="0.16" stroke-width="0.9"/><circle cx="74.9" cy="240.4" r="5.04" fill="#ffffff" fill-opacity="0.05" stroke="#3a3a3a" stroke-opacity="0.5" stroke-width="0.8"/><circle cx="74.9" cy="240.4" r="4.14" fill="none" stroke="#e0e0e0" stroke-opacity="0.3" stroke-width="0.8" stroke-dasharray="13.01,13.01" transform="rotate(-20 74.9 240.4)"/></g>
<g clip-path="url(#c1)"><circle cx="95.2" cy="244" r="5.1000000000000005" fill="none" stroke="#d0d0d0" stroke-opacity="0.16" stroke-width="0.9"/><circle cx="95.2" cy="244" r="4.2" fill="#ffffff" fill-opacity="0.05" stroke="#3a3a3a" stroke-opacity="0.5" stroke-width="0.8"/><circle cx="95.2" cy="244" r="3.30" fill="none" stroke="#e0e0e0" stroke-opacity="0.3" stroke-width="0.8" stroke-dasharray="10.37,10.37" transform="rotate(-20 95.2 244)"/></g>
<g clip-path="url(#c1)"><circle cx="60.8" cy="260" r="6.9" fill="none" stroke="#d0d0d0" stroke-opacity="0.16" stroke-width="0.9"/><circle cx="60.8" cy="260" r="6.0" fill="#ffffff" fill-opacity="0.05" stroke="#3a3a3a" stroke-opacity="0.5" stroke-width="0.8"/><circle cx="60.8" cy="260" r="5.10" fill="none" stroke="#e0e0e0" stroke-opacity="0.3" stroke-width="0.8" stroke-dasharray="16.02,16.02" transform="rotate(-20 60.8 260)"/></g>
<g clip-path="url(#c1)"><circle cx="71.3" cy="261.5" r="6.9" fill="none" stroke="#d0d0d0" stroke-opacity="0.16" stroke-width="0.9"/><circle cx="71.3" cy="261.5" r="6.0" fill="#ffffff" fill-opacity="0.05" stroke="#3a3a3a" stroke-opacity="0.5" stroke-width="0.8"/><circle cx="71.3" cy="261.5" r="5.10" fill="none" stroke="#e0e0e0" stroke-opacity="0.3" stroke-width="0.8" stroke-dasharray="16.02,16.02" transform="rotate(-20 71.3 261.5)"/></g>
<g clip-path="url(#c1)"><circle cx="95.9" cy="265" r="5.7" fill="none" stroke="#d0d0d0" stroke-opacity="0.16" stroke-width="0.9"/><circle cx="95.9" cy="265" r="4.8" fill="#ffffff" fill-opacity="0.05" stroke="#3a3a3a" stroke-opacity="0.5" stroke-width="0.8"/><circle cx="95.9" cy="265" r="3.90" fill="none" stroke="#e0e0e0" stroke-opacity="0.3" stroke-width="0.8" stroke-dasharray="12.25,12.25" transform="rotate(-20 95.9 265)"/></g>
<g clip-path="url(#c1)"><circle cx="132.7" cy="239" r="5.94" fill="none" stroke="#d0d0d0" stroke-opacity="0.16" stroke-width="0.9"/><circle cx="132.7" cy="239" r="5.04" fill="#ffffff" fill-opacity="0.05" stroke="#3a3a3a" stroke-opacity="0.5" stroke-width="0.8"/><circle cx="132.7" cy="239" r="4.14" fill="none" stroke="#e0e0e0" stroke-opacity="0.3" stroke-width="0.8" stroke-dasharray="13.01,13.01" transform="rotate(-20 132.7 239)"/></g>
<g clip-path="url(#c1)"><circle cx="103.2" cy="261.5" r="6.9" fill="none" stroke="#d0d0d0" stroke-opacity="0.16" stroke-width="0.9"/><circle cx="103.2" cy="261.5" r="6.0" fill="#ffffff" fill-opacity="0.05" stroke="#3a3a3a" stroke-opacity="0.5" stroke-width="0.8"/><circle cx="103.2" cy="261.5" r="5.10" fill="none" stroke="#e0e0e0" stroke-opacity="0.3" stroke-width="0.8" stroke-dasharray="16.02,16.02" transform="rotate(-20 103.2 261.5)"/></g>
<g clip-path="url(#c1)"><circle cx="125" cy="262.2" r="6.9" fill="none" stroke="#d0d0d0" stroke-opacity="0.16" stroke-width="0.9"/><circle cx="125" cy="262.2" r="6.0" fill="#ffffff" fill-opacity="0.05" stroke="#3a3a3a" stroke-opacity="0.5" stroke-width="0.8"/><circle cx="125" cy="262.2" r="5.10" fill="none" stroke="#e0e0e0" stroke-opacity="0.3" stroke-width="0.8" stroke-dasharray="16.02,16.02" transform="rotate(-20 125 262.2)"/></g>
<g clip-path="url(#c1)"><circle cx="134.1" cy="258.7" r="6.9" fill="none" stroke="#d0d0d0" stroke-opacity="0.16" stroke-width="0.9"/><circle cx="134.1" cy="258.7" r="6.0" fill="#ffffff" fill-opacity="0.05" stroke="#3a3a3a" stroke-opacity="0.5" stroke-width="0.8"/><circle cx="134.1" cy="258.7" r="5.10" fill="none" stroke="#e0e0e0" stroke-opacity="0.3" stroke-width="0.8" stroke-dasharray="16.02,16.02" transform="rotate(-20 134.1 258.7)"/></g>
<g clip-path="url(#c2)"><circle cx="166.7" cy="168" r="6.2" fill="none" stroke="#d0d0d0" stroke-opacity="0.16" stroke-width="0.9"/><circle cx="166.7" cy="168" r="5.3" fill="#ffffff" fill-opacity="0.05" stroke="#3a3a3a" stroke-opacity="0.55" stroke-width="0.8"/><circle cx="166.7" cy="168" r="4.40" fill="none" stroke="#e0e0e0" stroke-opacity="0.3" stroke-width="0.8" stroke-dasharray="13.82,13.82" transform="rotate(-20 166.7 168)"/></g>
<g clip-path="url(#c2)"><circle cx="175.3" cy="162" r="6.2" fill="none" stroke="#d0d0d0" stroke-opacity="0.16" stroke-width="0.9"/><circle cx="175.3" cy="162" r="5.3" fill="#ffffff" fill-opacity="0.05" stroke="#3a3a3a" stroke-opacity="0.55" stroke-width="0.8"/><circle cx="175.3" cy="162" r="4.40" fill="none" stroke="#e0e0e0" stroke-opacity="0.3" stroke-width="0.8" stroke-dasharray="13.82,13.82" transform="rotate(-20 175.3 162)"/></g>
<g clip-path="url(#c2)"><circle cx="192.7" cy="160.7" r="4.9" fill="none" stroke="#d0d0d0" stroke-opacity="0.16" stroke-width="0.9"/><circle cx="192.7" cy="160.7" r="4" fill="#ffffff" fill-opacity="0.05" stroke="#3a3a3a" stroke-opacity="0.55" stroke-width="0.8"/><circle cx="192.7" cy="160.7" r="3.10" fill="none" stroke="#e0e0e0" stroke-opacity="0.3" stroke-width="0.8" stroke-dasharray="9.74,9.74" transform="rotate(-20 192.7 160.7)"/></g>
<g clip-path="url(#c2)"><circle cx="185.3" cy="184" r="5.2" fill="none" stroke="#d0d0d0" stroke-opacity="0.16" stroke-width="0.9"/><circle cx="185.3" cy="184" r="4.3" fill="#ffffff" fill-opacity="0.05" stroke="#3a3a3a" stroke-opacity="0.55" stroke-width="0.8"/><circle cx="185.3" cy="184" r="3.40" fill="none" stroke="#e0e0e0" stroke-opacity="0.3" stroke-width="0.8" stroke-dasharray="10.68,10.68" transform="rotate(-20 185.3 184)"/></g>
<g clip-path="url(#c2)"><circle cx="193.6" cy="189.3" r="5.9" fill="none" stroke="#d0d0d0" stroke-opacity="0.16" stroke-width="0.9"/><circle cx="193.6" cy="189.3" r="5" fill="#ffffff" fill-opacity="0.05" stroke="#3a3a3a" stroke-opacity="0.55" stroke-width="0.8"/><circle cx="193.6" cy="189.3" r="4.10" fill="none" stroke="#e0e0e0" stroke-opacity="0.3" stroke-width="0.8" stroke-dasharray="12.88,12.88" transform="rotate(-20 193.6 189.3)"/></g>
<g clip-path="url(#c2)"><circle cx="174.7" cy="193.3" r="5.6000000000000005" fill="none" stroke="#d0d0d0" stroke-opacity="0.16" stroke-width="0.9"/><circle cx="174.7" cy="193.3" r="4.7" fill="#ffffff" fill-opacity="0.05" stroke="#3a3a3a" stroke-opacity="0.55" stroke-width="0.8"/><circle cx="174.7" cy="193.3" r="3.80" fill="none" stroke="#e0e0e0" stroke-opacity="0.3" stroke-width="0.8" stroke-dasharray="11.94,11.94" transform="rotate(-20 174.7 193.3)"/></g>
<g clip-path="url(#c2)"><circle cx="196" cy="170.7" r="2.9" fill="none" stroke="#d0d0d0" stroke-opacity="0.16" stroke-width="0.9"/><circle cx="196" cy="170.7" r="2" fill="#ffffff" fill-opacity="0.05" stroke="#3a3a3a" stroke-opacity="0.55" stroke-width="0.8"/><circle cx="196" cy="170.7" r="1.10" fill="none" stroke="#e0e0e0" stroke-opacity="0.3" stroke-width="0.8" stroke-dasharray="3.46,3.46" transform="rotate(-20 196 170.7)"/></g>
<g clip-path="url(#c2)"><circle cx="211" cy="160.7" r="2.9" fill="none" stroke="#d0d0d0" stroke-opacity="0.16" stroke-width="0.9"/><circle cx="211" cy="160.7" r="2" fill="#ffffff" fill-opacity="0.05" stroke="#3a3a3a" stroke-opacity="0.55" stroke-width="0.8"/><circle cx="211" cy="160.7" r="1.10" fill="none" stroke="#e0e0e0" stroke-opacity="0.3" stroke-width="0.8" stroke-dasharray="3.46,3.46" transform="rotate(-20 211 160.7)"/></g>
<g clip-path="url(#c2)"><circle cx="235" cy="172" r="2.4" fill="none" stroke="#d0d0d0" stroke-opacity="0.16" stroke-width="0.9"/><circle cx="235" cy="172" r="1.5" fill="#ffffff" fill-opacity="0.05" stroke="#3a3a3a" stroke-opacity="0.55" stroke-width="0.8"/><circle cx="235" cy="172" r="0.60" fill="none" stroke="#e0e0e0" stroke-opacity="0.3" stroke-width="0.8" stroke-dasharray="1.88,1.88" transform="rotate(-20 235 172)"/></g>
<g clip-path="url(#c2)"><circle cx="241" cy="188" r="5.6000000000000005" fill="none" stroke="#d0d0d0" stroke-opacity="0.16" stroke-width="0.9"/><circle cx="241" cy="188" r="4.7" fill="#ffffff" fill-opacity="0.05" stroke="#3a3a3a" stroke-opacity="0.55" stroke-width="0.8"/><circle cx="241" cy="188" r="3.80" fill="none" stroke="#e0e0e0" stroke-opacity="0.3" stroke-width="0.8" stroke-dasharray="11.94,11.94" transform="rotate(-20 241 188)"/></g>
<g clip-path="url(#c2)"><circle cx="258.7" cy="170" r="6.2" fill="none" stroke="#d0d0d0" stroke-opacity="0.16" stroke-width="0.9"/><circle cx="258.7" cy="170" r="5.3" fill="#ffffff" fill-opacity="0.05" stroke="#3a3a3a" stroke-opacity="0.55" stroke-width="0.8"/><circle cx="258.7" cy="170" r="4.40" fill="none" stroke="#e0e0e0" stroke-opacity="0.3" stroke-width="0.8" stroke-dasharray="13.82,13.82" transform="rotate(-20 258.7 170)"/></g>
<g clip-path="url(#c2)"><circle cx="270.7" cy="161.3" r="5.4" fill="none" stroke="#d0d0d0" stroke-opacity="0.16" stroke-width="0.9"/><circle cx="270.7" cy="161.3" r="4.5" fill="#ffffff" fill-opacity="0.05" stroke="#3a3a3a" stroke-opacity="0.55" stroke-width="0.8"/><circle cx="270.7" cy="161.3" r="3.60" fill="none" stroke="#e0e0e0" stroke-opacity="0.3" stroke-width="0.8" stroke-dasharray="11.31,11.31" transform="rotate(-20 270.7 161.3)"/></g>
<g clip-path="url(#c2)"><circle cx="272" cy="184.7" r="5.6000000000000005" fill="none" stroke="#d0d0d0" stroke-opacity="0.16" stroke-width="0.9"/><circle cx="272" cy="184.7" r="4.7" fill="#ffffff" fill-opacity="0.05" stroke="#3a3a3a" stroke-opacity="0.55" stroke-width="0.8"/><circle cx="272" cy="184.7" r="3.80" fill="none" stroke="#e0e0e0" stroke-opacity="0.3" stroke-width="0.8" stroke-dasharray="11.94,11.94" transform="rotate(-20 272 184.7)"/></g>
<g clip-path="url(#c2)"><circle cx="275.3" cy="198" r="2.9" fill="none" stroke="#d0d0d0" stroke-opacity="0.16" stroke-width="0.9"/><circle cx="275.3" cy="198" r="2" fill="#ffffff" fill-opacity="0.05" stroke="#3a3a3a" stroke-opacity="0.55" stroke-width="0.8"/><circle cx="275.3" cy="198" r="1.10" fill="none" stroke="#e0e0e0" stroke-opacity="0.3" stroke-width="0.8" stroke-dasharray="3.46,3.46" transform="rotate(-20 275.3 198)"/></g>
<g clip-path="url(#c2)"><circle cx="172" cy="216" r="6.2" fill="none" stroke="#d0d0d0" stroke-opacity="0.16" stroke-width="0.9"/><circle cx="172" cy="216" r="5.3" fill="#ffffff" fill-opacity="0.05" stroke="#3a3a3a" stroke-opacity="0.55" stroke-width="0.8"/><circle cx="172" cy="216" r="4.40" fill="none" stroke="#e0e0e0" stroke-opacity="0.3" stroke-width="0.8" stroke-dasharray="13.82,13.82" transform="rotate(-20 172 216)"/></g>
<g clip-path="url(#c2)"><circle cx="164.7" cy="229.3" r="4.9" fill="none" stroke="#d0d0d0" stroke-opacity="0.16" stroke-width="0.9"/><circle cx="164.7" cy="229.3" r="4" fill="#ffffff" fill-opacity="0.05" stroke="#3a3a3a" stroke-opacity="0.55" stroke-width="0.8"/><circle cx="164.7" cy="229.3" r="3.10" fill="none" stroke="#e0e0e0" stroke-opacity="0.3" stroke-width="0.8" stroke-dasharray="9.74,9.74" transform="rotate(-20 164.7 229.3)"/></g>
<g clip-path="url(#c2)"><circle cx="180.7" cy="230.7" r="1.9" fill="none" stroke="#d0d0d0" stroke-opacity="0.16" stroke-width="0.9"/><circle cx="180.7" cy="230.7" r="1" fill="#ffffff" fill-opacity="0.05" stroke="#3a3a3a" stroke-opacity="0.55" stroke-width="0.8"/><circle cx="180.7" cy="230.7" r="0.50" fill="none" stroke="#e0e0e0" stroke-opacity="0.3" stroke-width="0.8" stroke-dasharray="0.31,0.31" transform="rotate(-20 180.7 230.7)"/></g>
<g clip-path="url(#c2)"><circle cx="207" cy="205.3" r="5.6000000000000005" fill="none" stroke="#d0d0d0" stroke-opacity="0.16" stroke-width="0.9"/><circle cx="207" cy="205.3" r="4.7" fill="#ffffff" fill-opacity="0.05" stroke="#3a3a3a" stroke-opacity="0.55" stroke-width="0.8"/><circle cx="207" cy="205.3" r="3.80" fill="none" stroke="#e0e0e0" stroke-opacity="0.3" stroke-width="0.8" stroke-dasharray="11.94,11.94" transform="rotate(-20 207 205.3)"/></g>
<g clip-path="url(#c2)"><circle cx="233.5" cy="199.5" r="6.2" fill="none" stroke="#d0d0d0" stroke-opacity="0.16" stroke-width="0.9"/><circle cx="233.5" cy="199.5" r="5.3" fill="#ffffff" fill-opacity="0.05" stroke="#3a3a3a" stroke-opacity="0.55" stroke-width="0.8"/><circle cx="233.5" cy="199.5" r="4.40" fill="none" stroke="#e0e0e0" stroke-opacity="0.3" stroke-width="0.8" stroke-dasharray="13.82,13.82" transform="rotate(-20 233.5 199.5)"/></g>
<g clip-path="url(#c2)"><circle cx="238.3" cy="208.7" r="6.2" fill="none" stroke="#d0d0d0" stroke-opacity="0.16" stroke-width="0.9"/><circle cx="238.3" cy="208.7" r="5.3" fill="#ffffff" fill-opacity="0.05" stroke="#3a3a3a" stroke-opacity="0.55" stroke-width="0.8"/><circle cx="238.3" cy="208.7" r="4.40" fill="none" stroke="#e0e0e0" stroke-opacity="0.3" stroke-width="0.8" stroke-dasharray="13.82,13.82" transform="rotate(-20 238.3 208.7)"/></g>
<g clip-path="url(#c2)"><circle cx="241.7" cy="218" r="6.2" fill="none" stroke="#d0d0d0" stroke-opacity="0.16" stroke-width="0.9"/><circle cx="241.7" cy="218" r="5.3" fill="#ffffff" fill-opacity="0.05" stroke="#3a3a3a" stroke-opacity="0.55" stroke-width="0.8"/><circle cx="241.7" cy="218" r="4.40" fill="none" stroke="#e0e0e0" stroke-opacity="0.3" stroke-width="0.8" stroke-dasharray="13.82,13.82" transform="rotate(-20 241.7 218)"/></g>
<g clip-path="url(#c2)"><circle cx="231" cy="214" r="2.9" fill="none" stroke="#d0d0d0" stroke-opacity="0.16" stroke-width="0.9"/><circle cx="231" cy="214" r="2" fill="#ffffff" fill-opacity="0.05" stroke="#3a3a3a" stroke-opacity="0.55" stroke-width="0.8"/><circle cx="231" cy="214" r="1.10" fill="none" stroke="#e0e0e0" stroke-opacity="0.3" stroke-width="0.8" stroke-dasharray="3.46,3.46" transform="rotate(-20 231 214)"/></g>
<g clip-path="url(#c2)"><circle cx="260" cy="218" r="5.6000000000000005" fill="none" stroke="#d0d0d0" stroke-opacity="0.16" stroke-width="0.9"/><circle cx="260" cy="218" r="4.7" fill="#ffffff" fill-opacity="0.05" stroke="#3a3a3a" stroke-opacity="0.55" stroke-width="0.8"/><circle cx="260" cy="218" r="3.80" fill="none" stroke="#e0e0e0" stroke-opacity="0.3" stroke-width="0.8" stroke-dasharray="11.94,11.94" transform="rotate(-20 260 218)"/></g>
<g clip-path="url(#c2)"><circle cx="281.3" cy="216" r="6.2" fill="none" stroke="#d0d0d0" stroke-opacity="0.16" stroke-width="0.9"/><circle cx="281.3" cy="216" r="5.3" fill="#ffffff" fill-opacity="0.05" stroke="#3a3a3a" stroke-opacity="0.55" stroke-width="0.8"/><circle cx="281.3" cy="216" r="4.40" fill="none" stroke="#e0e0e0" stroke-opacity="0.3" stroke-width="0.8" stroke-dasharray="13.82,13.82" transform="rotate(-20 281.3 216)"/></g>
<g clip-path="url(#c2)"><circle cx="166" cy="236.1" r="5.7" fill="none" stroke="#d0d0d0" stroke-opacity="0.16" stroke-width="0.9"/><circle cx="166" cy="236.1" r="4.8" fill="#ffffff" fill-opacity="0.05" stroke="#3a3a3a" stroke-opacity="0.55" stroke-width="0.8"/><circle cx="166" cy="236.1" r="3.90" fill="none" stroke="#e0e0e0" stroke-opacity="0.3" stroke-width="0.8" stroke-dasharray="12.25,12.25" transform="rotate(-20 166 236.1)"/></g>
<g clip-path="url(#c2)"><circle cx="193.5" cy="242.3" r="5.7" fill="none" stroke="#d0d0d0" stroke-opacity="0.16" stroke-width="0.9"/><circle cx="193.5" cy="242.3" r="4.8" fill="#ffffff" fill-opacity="0.05" stroke="#3a3a3a" stroke-opacity="0.55" stroke-width="0.8"/><circle cx="193.5" cy="242.3" r="3.90" fill="none" stroke="#e0e0e0" stroke-opacity="0.3" stroke-width="0.8" stroke-dasharray="12.25,12.25" transform="rotate(-20 193.5 242.3)"/></g>
<g clip-path="url(#c2)"><circle cx="172.3" cy="251.2" r="5.7" fill="none" stroke="#d0d0d0" stroke-opacity="0.16" stroke-width="0.9"/><circle cx="172.3" cy="251.2" r="4.8" fill="#ffffff" fill-opacity="0.05" stroke="#3a3a3a" stroke-opacity="0.55" stroke-width="0.8"/><circle cx="172.3" cy="251.2" r="3.90" fill="none" stroke="#e0e0e0" stroke-opacity="0.3" stroke-width="0.8" stroke-dasharray="12.25,12.25" transform="rotate(-20 172.3 251.2)"/></g>
<g clip-path="url(#c2)"><circle cx="229" cy="236.1" r="5.7" fill="none" stroke="#d0d0d0" stroke-opacity="0.16" stroke-width="0.9"/><circle cx="229" cy="236.1" r="4.8" fill="#ffffff" fill-opacity="0.05" stroke="#3a3a3a" stroke-opacity="0.55" stroke-width="0.8"/><circle cx="229" cy="236.1" r="3.90" fill="none" stroke="#e0e0e0" stroke-opacity="0.3" stroke-width="0.8" stroke-dasharray="12.25,12.25" transform="rotate(-20 229 236.1)"/></g>
<g clip-path="url(#c2)"><circle cx="222.9" cy="255.3" r="3.1" fill="none" stroke="#d0d0d0" stroke-opacity="0.16" stroke-width="0.9"/><circle cx="222.9" cy="255.3" r="2.2" fill="#ffffff" fill-opacity="0.05" stroke="#3a3a3a" stroke-opacity="0.55" stroke-width="0.8"/><circle cx="222.9" cy="255.3" r="1.30" fill="none" stroke="#e0e0e0" stroke-opacity="0.3" stroke-width="0.8" stroke-dasharray="4.08,4.08" transform="rotate(-20 222.9 255.3)"/></g>
<g clip-path="url(#c2)"><circle cx="260.4" cy="241.6" r="5.7" fill="none" stroke="#d0d0d0" stroke-opacity="0.16" stroke-width="0.9"/><circle cx="260.4" cy="241.6" r="4.8" fill="#ffffff" fill-opacity="0.05" stroke="#3a3a3a" stroke-opacity="0.55" stroke-width="0.8"/><circle cx="260.4" cy="241.6" r="3.90" fill="none" stroke="#e0e0e0" stroke-opacity="0.3" stroke-width="0.8" stroke-dasharray="12.25,12.25" transform="rotate(-20 260.4 241.6)"/></g>
<g clip-path="url(#c2)"><circle cx="274.1" cy="242.3" r="3.4" fill="none" stroke="#d0d0d0" stroke-opacity="0.16" stroke-width="0.9"/><circle cx="274.1" cy="242.3" r="2.5" fill="#ffffff" fill-opacity="0.05" stroke="#3a3a3a" stroke-opacity="0.55" stroke-width="0.8"/><circle cx="274.1" cy="242.3" r="1.60" fill="none" stroke="#e0e0e0" stroke-opacity="0.3" stroke-width="0.8" stroke-dasharray="5.03,5.03" transform="rotate(-20 274.1 242.3)"/></g>
<g clip-path="url(#c2)"><circle cx="252.2" cy="259.4" r="6.4" fill="none" stroke="#d0d0d0" stroke-opacity="0.16" stroke-width="0.9"/><circle cx="252.2" cy="259.4" r="5.5" fill="#ffffff" fill-opacity="0.05" stroke="#3a3a3a" stroke-opacity="0.55" stroke-width="0.8"/><circle cx="252.2" cy="259.4" r="4.60" fill="none" stroke="#e0e0e0" stroke-opacity="0.3" stroke-width="0.8" stroke-dasharray="14.45,14.45" transform="rotate(-20 252.2 259.4)"/></g>
<g clip-path="url(#c2)"><circle cx="266.6" cy="268.3" r="5.4" fill="none" stroke="#d0d0d0" stroke-opacity="0.16" stroke-width="0.9"/><circle cx="266.6" cy="268.3" r="4.5" fill="#ffffff" fill-opacity="0.05" stroke="#3a3a3a" stroke-opacity="0.55" stroke-width="0.8"/><circle cx="266.6" cy="268.3" r="3.60" fill="none" stroke="#e0e0e0" stroke-opacity="0.3" stroke-width="0.8" stroke-dasharray="11.31,11.31" transform="rotate(-20 266.6 268.3)"/></g>
<path d="M98,165.3 L92.7,174.7" fill="none" stroke="#4a4a4a" stroke-opacity="0.6" stroke-width="0.7" clip-path="url(#c1)"/>
<path d="M68.7,202.7 L60.7,213.3" fill="none" stroke="#4a4a4a" stroke-opacity="0.6" stroke-width="0.7" clip-path="url(#c1)"/>
<path d="M92.7,212 L83.3,230.7" fill="none" stroke="#4a4a4a" stroke-opacity="0.6" stroke-width="0.7" clip-path="url(#c1)"/>
<path d="M99,178.7 L109.7,188" fill="none" stroke="#4a4a4a" stroke-opacity="0.6" stroke-width="0.7" clip-path="url(#c1)"/>
<path d="M124.3,236.2 L126.4,248.9" fill="none" stroke="#4a4a4a" stroke-opacity="0.6" stroke-width="0.7" clip-path="url(#c1)"/>
<path d="M66,205 L71,201.5 L77,199.5 L82,196.5 L88,195 L97,191" fill="none" stroke="#b4b4b4" stroke-opacity="0.3" stroke-width="2.8" stroke-linecap="round" stroke-linejoin="round" clip-path="url(#c1)"/>
<circle cx="70" cy="202" r="0.9" fill="#d8d8d8" fill-opacity="0.5" clip-path="url(#c1)"/>
<circle cx="76" cy="200" r="0.9" fill="#d8d8d8" fill-opacity="0.5" clip-path="url(#c1)"/>
<circle cx="83" cy="197" r="0.9" fill="#d8d8d8" fill-opacity="0.5" clip-path="url(#c1)"/>
<circle cx="89" cy="194.5" r="0.9" fill="#d8d8d8" fill-opacity="0.5" clip-path="url(#c1)"/>
<circle cx="94" cy="192.5" r="0.9" fill="#d8d8d8" fill-opacity="0.5" clip-path="url(#c1)"/>
<path d="M66,206.5 L73,202.5 L80,200.5 L88,197 L98,193 M66,203.5 L72,199.5 L79,196.5 L86,193 L96,189.5" fill="none" stroke="#555" stroke-opacity="0.45" stroke-width="0.6" clip-path="url(#c1)"/>
</g>
<polygon points="39.90,201.80 38.96,195.37 40.47,197.50 41.98,193.78 44.02,194.62 42.50,198.33 45.07,197.86" fill="#f6ec16" stroke="#f6ec16" stroke-width="0.4" stroke-linejoin="round"/>
<polygon points="93.40,179.50 95.61,173.39 95.93,175.97 99.10,173.35 100.50,175.05 97.34,177.67 99.82,178.47" fill="#f6ec16" stroke="#f6ec16" stroke-width="0.4" stroke-linejoin="round"/>
<polygon points="81.65,233.05 88.04,234.26 85.53,234.99 88.82,237.87 87.38,239.53 84.08,236.64 83.69,239.22" fill="#f6ec16" stroke="#f6ec16" stroke-width="0.4" stroke-linejoin="round"/>
<polygon points="116.20,232.60 114.89,226.23 116.52,228.27 117.66,224.94 119.74,225.66 118.60,228.98 121.14,228.37" fill="#f6ec16" stroke="#f6ec16" stroke-width="0.4" stroke-linejoin="round"/>
<polygon points="96.60,262.10 90.12,262.58 92.35,261.23 88.81,259.49 89.79,257.51 93.32,259.26 93.04,256.66" fill="#f6ec16" stroke="#f6ec16" stroke-width="0.4" stroke-linejoin="round"/>
<polygon points="136.40,259.20 135.35,252.79 136.89,254.89 137.97,252.10 140.03,252.90 138.94,255.68 141.50,255.17" fill="#f6ec16" stroke="#f6ec16" stroke-width="0.4" stroke-linejoin="round"/>
<polygon points="210.30,207.50 216.33,209.92 213.74,210.15 216.57,213.83 214.83,215.17 211.99,211.50 211.11,213.95" fill="#f6ec16" stroke="#f6ec16" stroke-width="0.4" stroke-linejoin="round"/>
<polygon points="257.60,220.00 254.10,225.48 254.35,222.88 250.80,224.68 249.80,222.72 253.36,220.92 251.11,219.59" fill="#f6ec16" stroke="#f6ec16" stroke-width="0.4" stroke-linejoin="round"/>
<text transform="translate(14.1,213.3) rotate(-90)" x="0" y="0" font-size="6.9" text-anchor="middle" fill="#1e1e1e" textLength="25.6" lengthAdjust="spacingAndGlyphs">negC LNA</text>
<text transform="translate(158.7,212.8) rotate(-90)" x="0" y="0" font-size="6.9" text-anchor="middle" fill="#1e1e1e" textLength="22.8" lengthAdjust="spacingAndGlyphs">125a LNA</text>
<rect x="20.3" y="269.0" width="35.5" height="1.7" fill="#f6f6f6" />
<text class="w" x="25.9" y="265.8" font-size="8.8" text-anchor="start" fill="#f6f6f6" font-weight="normal" textLength="24.0" lengthAdjust="spacingAndGlyphs">50 μm</text>
<rect x="164.7" y="268.5" width="36.3" height="1.7" fill="#f6f6f6" />
<text class="w" x="168.4" y="265.7" font-size="8.8" text-anchor="start" fill="#f6f6f6" font-weight="normal" textLength="24.0" lengthAdjust="spacingAndGlyphs">50 μm</text>
<rect x="332.7" y="201.0" width="16.0" height="49.7" fill="#8c95bf" />
<rect x="358.0" y="235.5" width="15.8" height="15.2" fill="#d48e7f" />
<circle cx="340.5" cy="186.9" r="1.2" fill="#22408e"/>
<circle cx="340.5" cy="190.1" r="1.2" fill="#22408e"/>
<circle cx="338.2" cy="205.9" r="1.2" fill="#22408e"/>
<circle cx="342.5" cy="205.0" r="1.2" fill="#22408e"/>
<circle cx="340.8" cy="216.4" r="1.2" fill="#22408e"/>
<circle cx="365.9" cy="228.3" r="1.2" fill="#c4122e"/>
<circle cx="363.2" cy="235.7" r="1.2" fill="#c4122e"/>
<circle cx="368.0" cy="236.2" r="1.2" fill="#c4122e"/>
<circle cx="363.6" cy="238.0" r="1.2" fill="#c4122e"/>
<circle cx="368.0" cy="238.5" r="1.2" fill="#c4122e"/>
<line x1="340.8" y1="196.0" x2="340.8" y2="204.6" stroke="#222" stroke-width="1.1" />
<line x1="337.3" y1="196.0" x2="344.3" y2="196.0" stroke="#222" stroke-width="1.1" />
<line x1="337.3" y1="204.6" x2="344.3" y2="204.6" stroke="#222" stroke-width="1.1" />
<line x1="365.8" y1="233.2" x2="365.8" y2="239.0" stroke="#222" stroke-width="1.1" />
<line x1="362.8" y1="233.2" x2="368.8" y2="233.2" stroke="#222" stroke-width="1.1" />
<line x1="362.8" y1="239.0" x2="368.8" y2="239.0" stroke="#222" stroke-width="1.1" />
<line x1="327.8" y1="176.3" x2="327.8" y2="251.35" stroke="#1a1a1a" stroke-width="1.3" />
<line x1="324.5" y1="179.5" x2="327.8" y2="179.5" stroke="#1a1a1a" stroke-width="1.1" />
<text x="322.2" y="182.1" font-size="7.4" text-anchor="end" fill="#1e1e1e" font-weight="normal" textLength="7.1" lengthAdjust="spacingAndGlyphs">30</text>
<line x1="324.5" y1="203.2" x2="327.8" y2="203.2" stroke="#1a1a1a" stroke-width="1.1" />
<text x="322.2" y="205.8" font-size="7.4" text-anchor="end" fill="#1e1e1e" font-weight="normal" textLength="7.1" lengthAdjust="spacingAndGlyphs">20</text>
<line x1="324.5" y1="226.9" x2="327.8" y2="226.9" stroke="#1a1a1a" stroke-width="1.1" />
<text x="322.2" y="229.5" font-size="7.4" text-anchor="end" fill="#1e1e1e" font-weight="normal" textLength="7.1" lengthAdjust="spacingAndGlyphs">10</text>
<line x1="324.5" y1="250.7" x2="327.8" y2="250.7" stroke="#1a1a1a" stroke-width="1.1" />
<text x="322.2" y="253.3" font-size="7.4" text-anchor="end" fill="#1e1e1e" font-weight="normal" textLength="3.55" lengthAdjust="spacingAndGlyphs">0</text>
<line x1="325.2" y1="250.85" x2="378.5" y2="250.85" stroke="#1a1a1a" stroke-width="1.65" />
<line x1="340.8" y1="250.7" x2="340.8" y2="254.1" stroke="#1a1a1a" stroke-width="1.0" />
<line x1="365.8" y1="250.7" x2="365.8" y2="254.1" stroke="#1a1a1a" stroke-width="1.0" />
<text x="340.8" y="264.3" font-size="6.6" text-anchor="middle" fill="#1e1e1e" font-weight="normal" textLength="15.2" lengthAdjust="spacingAndGlyphs">negC</text>
<text x="366.0" y="264.3" font-size="6.6" text-anchor="middle" fill="#1e1e1e" font-weight="normal" textLength="13.2" lengthAdjust="spacingAndGlyphs">125a</text>
<line x1="332.4" y1="267.4" x2="373.8" y2="267.4" stroke="#1a1a1a" stroke-width="1.1" />
<text x="353.5" y="276.3" font-size="8.6" text-anchor="middle" fill="#1e1e1e" font-weight="normal" textLength="11.2" lengthAdjust="spacingAndGlyphs">LNA</text>
<line x1="338.4" y1="173.8" x2="367.4" y2="173.8" stroke="#222" stroke-width="1.0" />
<line x1="338.4" y1="171.6" x2="338.4" y2="176.0" stroke="#222" stroke-width="1.0" />
<line x1="367.4" y1="171.6" x2="367.4" y2="176.0" stroke="#222" stroke-width="1.0" />
<text x="353.0" y="169.9" font-size="5.8" text-anchor="middle" fill="#1e1e1e" font-weight="normal" textLength="23.6" lengthAdjust="spacingAndGlyphs">P=0.0003</text>
<text transform="translate(307.7,213.2) rotate(-90)" x="0" y="0" font-size="7.8" text-anchor="middle" fill="#1e1e1e" textLength="33.0" lengthAdjust="spacingAndGlyphs">% PPF MKs</text>
<rect x="425.6" y="216.0" width="15.0" height="34.7" fill="#8c95bf" />
<rect x="449.0" y="203.8" width="15.4" height="46.9" fill="#d48e7f" />
<circle cx="433.1" cy="186.2" r="1.2" fill="#22408e"/>
<circle cx="433.3" cy="215.0" r="1.2" fill="#22408e"/>
<circle cx="428.7" cy="224.5" r="1.2" fill="#22408e"/>
<circle cx="437.7" cy="224.5" r="1.2" fill="#22408e"/>
<circle cx="433.3" cy="222.4" r="1.2" fill="#22408e"/>
<circle cx="456.8" cy="184.5" r="1.2" fill="#c4122e"/>
<circle cx="453.9" cy="203.8" r="1.2" fill="#c4122e"/>
<circle cx="459.2" cy="203.0" r="1.2" fill="#c4122e"/>
<circle cx="453.9" cy="208.0" r="1.2" fill="#c4122e"/>
<circle cx="459.2" cy="208.0" r="1.2" fill="#c4122e"/>
<circle cx="456.5" cy="213.5" r="1.2" fill="#c4122e"/>
<line x1="433.2" y1="209.7" x2="433.2" y2="222.0" stroke="#222" stroke-width="1.1" />
<line x1="429.7" y1="209.7" x2="436.7" y2="209.7" stroke="#222" stroke-width="1.1" />
<line x1="429.7" y1="222.0" x2="436.7" y2="222.0" stroke="#222" stroke-width="1.1" />
<line x1="456.6" y1="199.4" x2="456.6" y2="208.5" stroke="#222" stroke-width="1.1" />
<line x1="453.1" y1="199.4" x2="460.1" y2="199.4" stroke="#222" stroke-width="1.1" />
<line x1="453.1" y1="208.5" x2="460.1" y2="208.5" stroke="#222" stroke-width="1.1" />
<line x1="421.3" y1="175.0" x2="421.3" y2="251.35" stroke="#1a1a1a" stroke-width="1.3" />
<line x1="418.0" y1="177.5" x2="421.3" y2="177.5" stroke="#1a1a1a" stroke-width="1.1" />
<text x="415.2" y="180.1" font-size="7.4" text-anchor="end" fill="#1e1e1e" font-weight="normal" textLength="7.1" lengthAdjust="spacingAndGlyphs">60</text>
<line x1="418.0" y1="201.9" x2="421.3" y2="201.9" stroke="#1a1a1a" stroke-width="1.1" />
<text x="415.2" y="204.5" font-size="7.4" text-anchor="end" fill="#1e1e1e" font-weight="normal" textLength="7.1" lengthAdjust="spacingAndGlyphs">40</text>
<line x1="418.0" y1="226.3" x2="421.3" y2="226.3" stroke="#1a1a1a" stroke-width="1.1" />
<text x="415.2" y="228.9" font-size="7.4" text-anchor="end" fill="#1e1e1e" font-weight="normal" textLength="7.1" lengthAdjust="spacingAndGlyphs">20</text>
<line x1="418.0" y1="250.7" x2="421.3" y2="250.7" stroke="#1a1a1a" stroke-width="1.1" />
<text x="415.2" y="253.3" font-size="7.4" text-anchor="end" fill="#1e1e1e" font-weight="normal" textLength="3.55" lengthAdjust="spacingAndGlyphs">0</text>
<line x1="419.0" y1="250.85" x2="469.5" y2="250.85" stroke="#1a1a1a" stroke-width="1.65" />
<line x1="433.2" y1="250.7" x2="433.2" y2="254.1" stroke="#1a1a1a" stroke-width="1.0" />
<line x1="456.6" y1="250.7" x2="456.6" y2="254.1" stroke="#1a1a1a" stroke-width="1.0" />
<text x="433.2" y="263.5" font-size="6.6" text-anchor="middle" fill="#1e1e1e" font-weight="normal" textLength="13.6" lengthAdjust="spacingAndGlyphs">conL</text>
<text x="457.0" y="263.5" font-size="6.6" text-anchor="middle" fill="#1e1e1e" font-weight="normal" textLength="13.6" lengthAdjust="spacingAndGlyphs">125a</text>
<line x1="425.7" y1="267.6" x2="464.3" y2="267.6" stroke="#1a1a1a" stroke-width="1.1" />
<text x="444.9" y="276.3" font-size="8.6" text-anchor="middle" fill="#1e1e1e" font-weight="normal" textLength="14.0" lengthAdjust="spacingAndGlyphs">Lenti</text>
<line x1="430.4" y1="173.8" x2="459.2" y2="173.8" stroke="#222" stroke-width="1.0" />
<line x1="430.4" y1="171.6" x2="430.4" y2="176.0" stroke="#222" stroke-width="1.0" />
<line x1="459.2" y1="171.6" x2="459.2" y2="176.0" stroke="#222" stroke-width="1.0" />
<text x="444.8" y="169.9" font-size="5.8" text-anchor="middle" fill="#1e1e1e" font-weight="normal" textLength="20.0" lengthAdjust="spacingAndGlyphs">P=0.008</text>
<text transform="translate(401.8,214.0) rotate(-90)" x="0" y="0" font-size="7.8" text-anchor="middle" fill="#1e1e1e" textLength="31.0" lengthAdjust="spacingAndGlyphs">% PPF MKs</text>
<rect x="0" y="0" width="520" height="1.1" fill="#000" />
<rect x="0" y="0" width="1.0" height="285" fill="#000" />
<rect x="518.7" y="0" width="1.3" height="285" fill="#000" />
<rect x="0" y="283.6" width="520" height="1.4" fill="#000" />
</svg></body></html>
